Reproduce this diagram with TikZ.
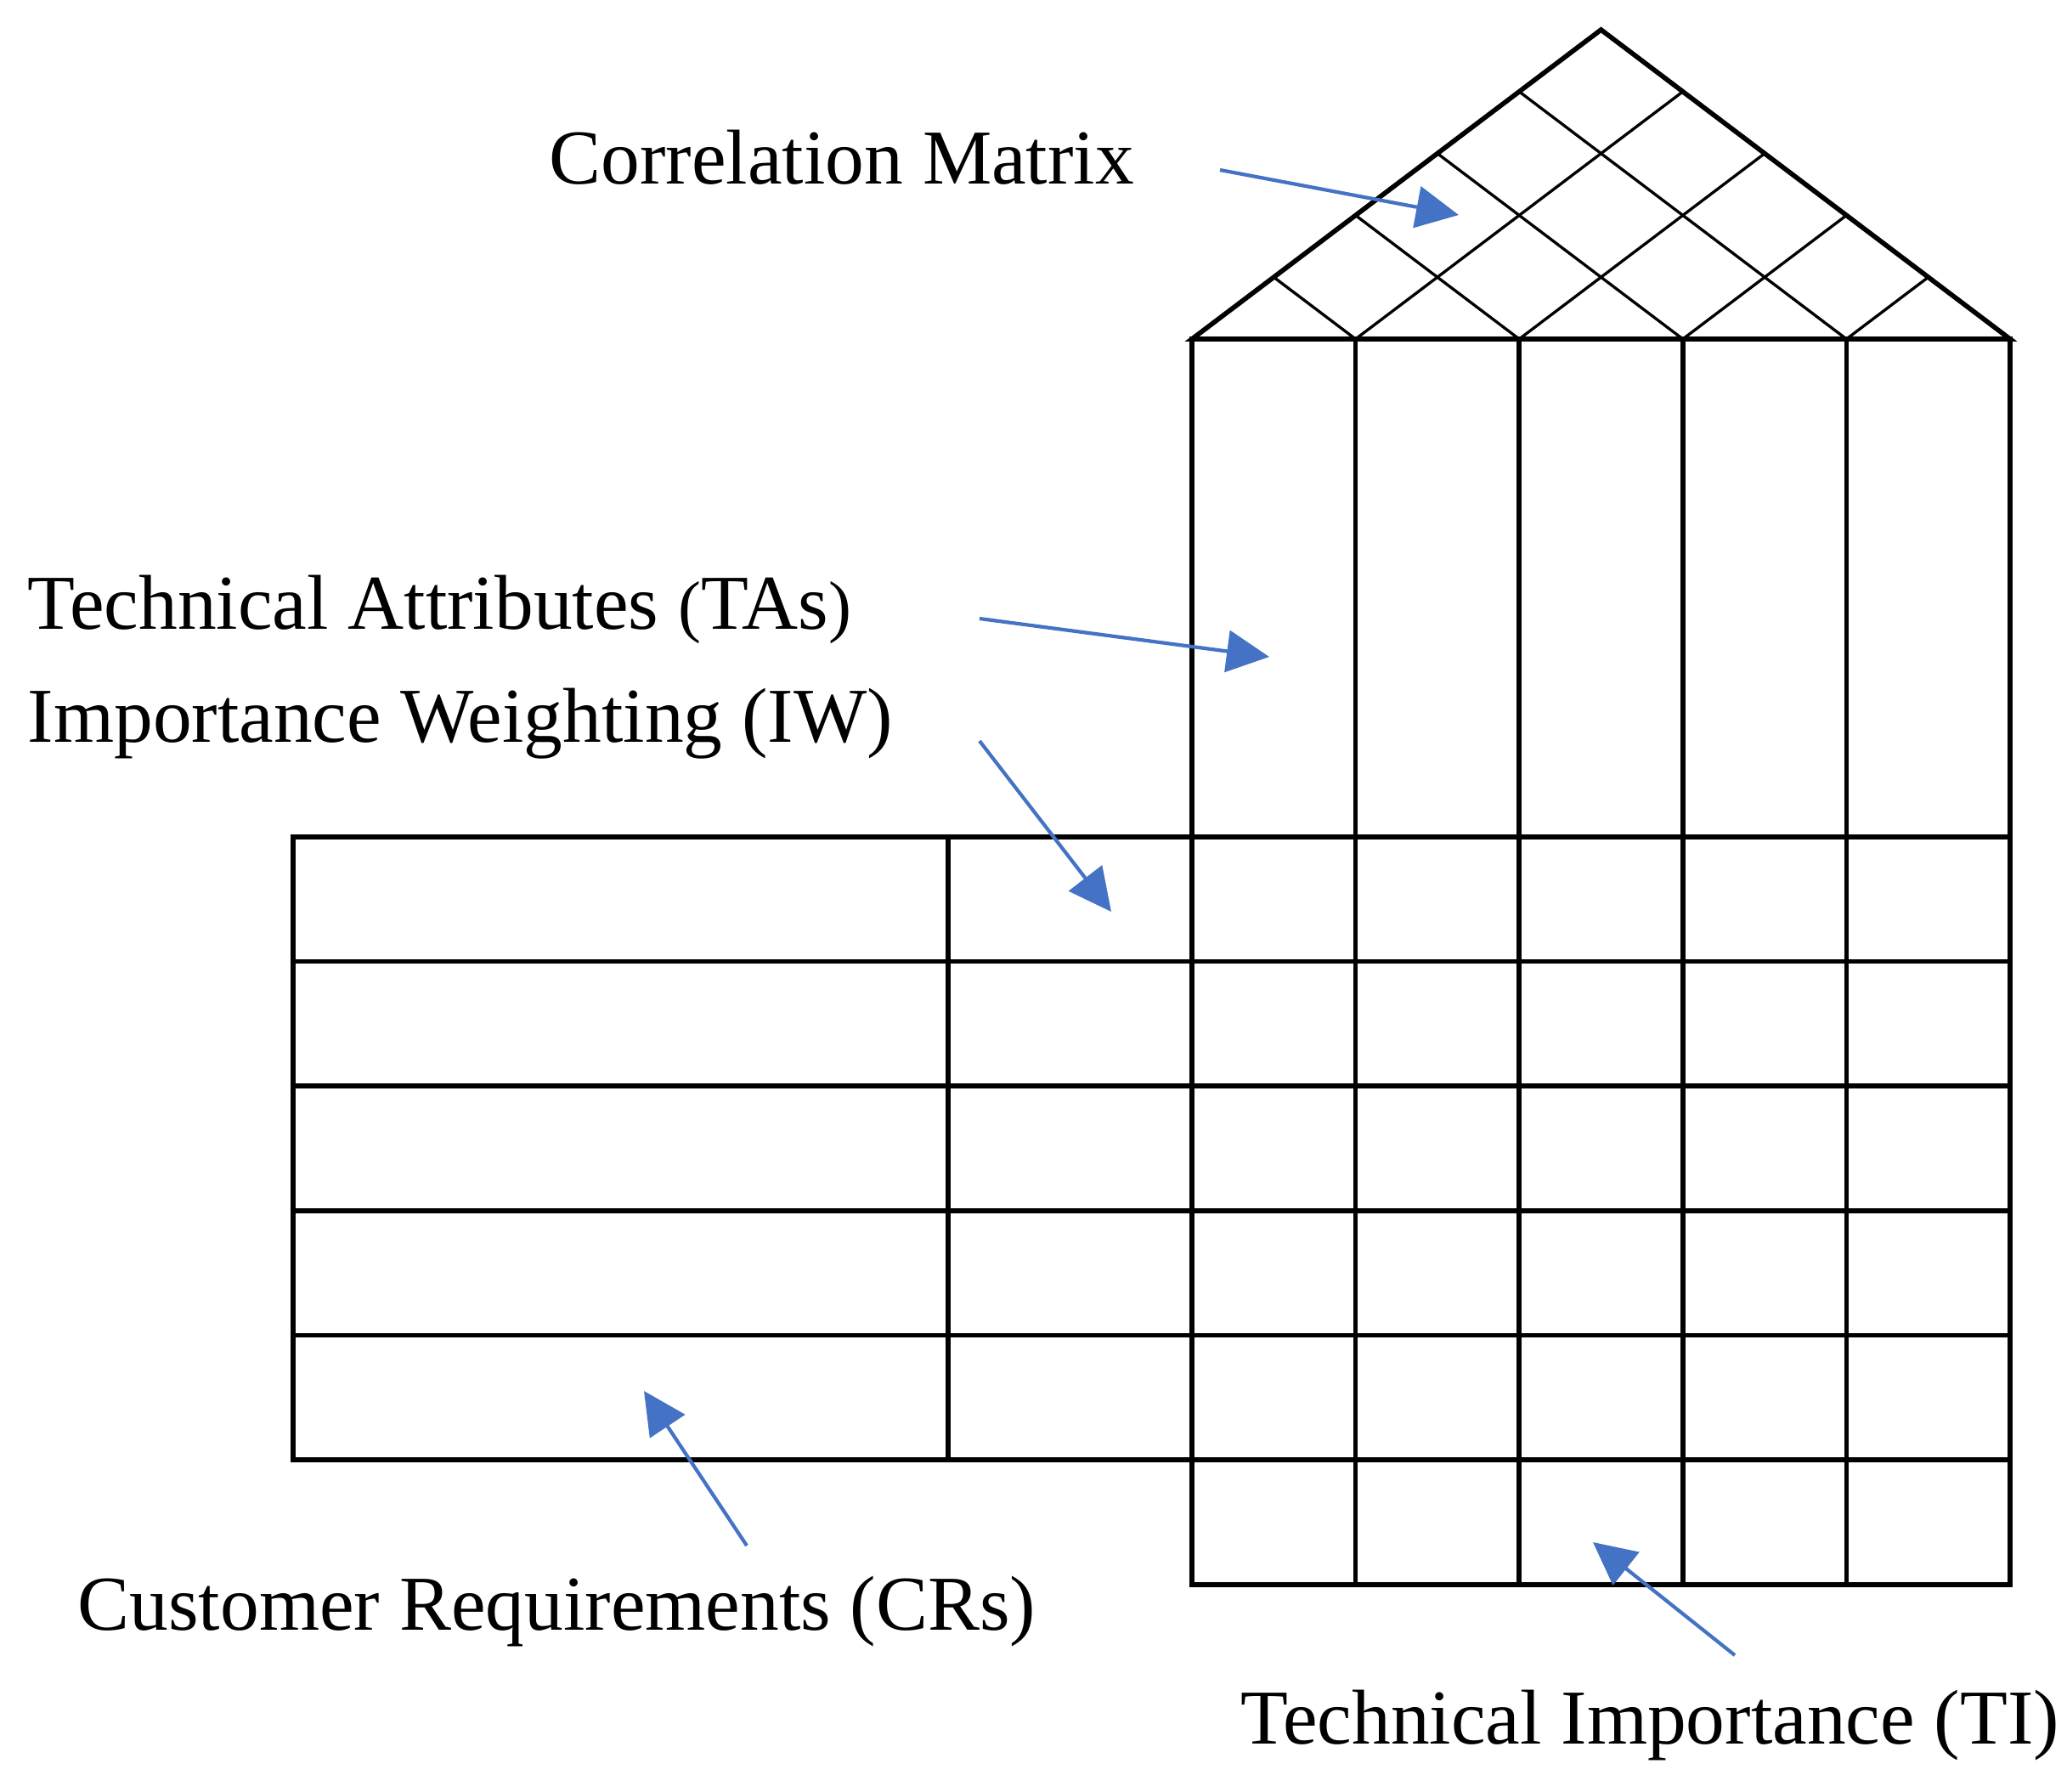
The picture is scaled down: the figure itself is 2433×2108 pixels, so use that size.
\documentclass[tikz,border=0pt]{standalone}
\usepackage{fontspec}
\setmainfont{Liberation Serif}
\usetikzlibrary{arrows.meta,calc}
\definecolor{pointblue}{HTML}{4472C4}

\begin{document}
\begin{tikzpicture}[
    x=0.01cm, y=-0.01cm,
    grid/.style={line width=1.6pt, line cap=rect},
    lattice/.style={line width=0.95pt},
    partname/.style={anchor=base west, inner sep=0pt, font=\fontsize{26}{30}\selectfont},
    pointer/.style={draw=pointblue, line width=1.2pt,
                    -{Triangle[length=0.5cm, width=0.49cm]}}
]
    \useasboundingbox (0,0) rectangle (2433,2108);

    % roof
    \coordinate (roofL) at (1403,399);
    \coordinate (roofR) at (2366,399);
    \coordinate (apex) at (1884.5,35);
    \foreach \i in {1,...,4} {
        \draw[lattice] ($(roofL)!{\i/5}!(apex)$) -- ({1403+192.6*\i},399)
                       -- ($(roofR)!{(5-\i)/5}!(apex)$);
    }
    \draw[grid, line join=miter] (roofL) -- (apex) -- (roofR) -- cycle;

    % columns and rows
    \foreach \i in {0,...,5}
        \draw[grid] ({1403+192.6*\i},399) -- ({1403+192.6*\i},1865);
    \foreach \j in {0,...,5}
        \draw[grid] (345,{985+146.6*\j}) -- (2366,{985+146.6*\j});
    \draw[grid] (1403,1865) -- (2366,1865);
    \draw[grid] (345,985) -- (345,1718);
    \draw[grid] (1116,985) -- (1116,1718);

    \node[partname] (cm) at (646,216) {Correlation Matrix};
    \node[partname] (ta) at (32,740) {Technical Attributes {\fontsize{23}{26}\selectfont(}TAs{\fontsize{23}{26}\selectfont)}};
    \node[partname] (iw) at (32,873) {Importance Weighting (IW)};
    \node[partname] (cr) at (91,1918) {Customer Requirements (CRs)};
    \node[partname] (ti) at (1460,2052) {Technical Importance (TI)};

    \coordinate (cm tail) at (1436,200);
    \coordinate (cm tip) at (1717,253);
    \coordinate (ta tail) at (1153,728);
    \coordinate (ta tip) at (1494,773);
    \coordinate (iw tail) at (1153,872);
    \coordinate (iw tip) at (1308,1073);
    \coordinate (cr tail) at (879,1819);
    \coordinate (cr tip) at (758,1637);
    \coordinate (ti tail) at (2042,1948);
    \coordinate (ti tip) at (1875,1815);

    \draw[pointer] (cm tail) -- (cm tip);
    \draw[pointer] (ta tail) -- (ta tip);
    \draw[pointer] (iw tail) -- (iw tip);
    \draw[pointer] (cr tail) -- (cr tip);
    \draw[pointer] (ti tail) -- (ti tip);
\end{tikzpicture}
\end{document}
